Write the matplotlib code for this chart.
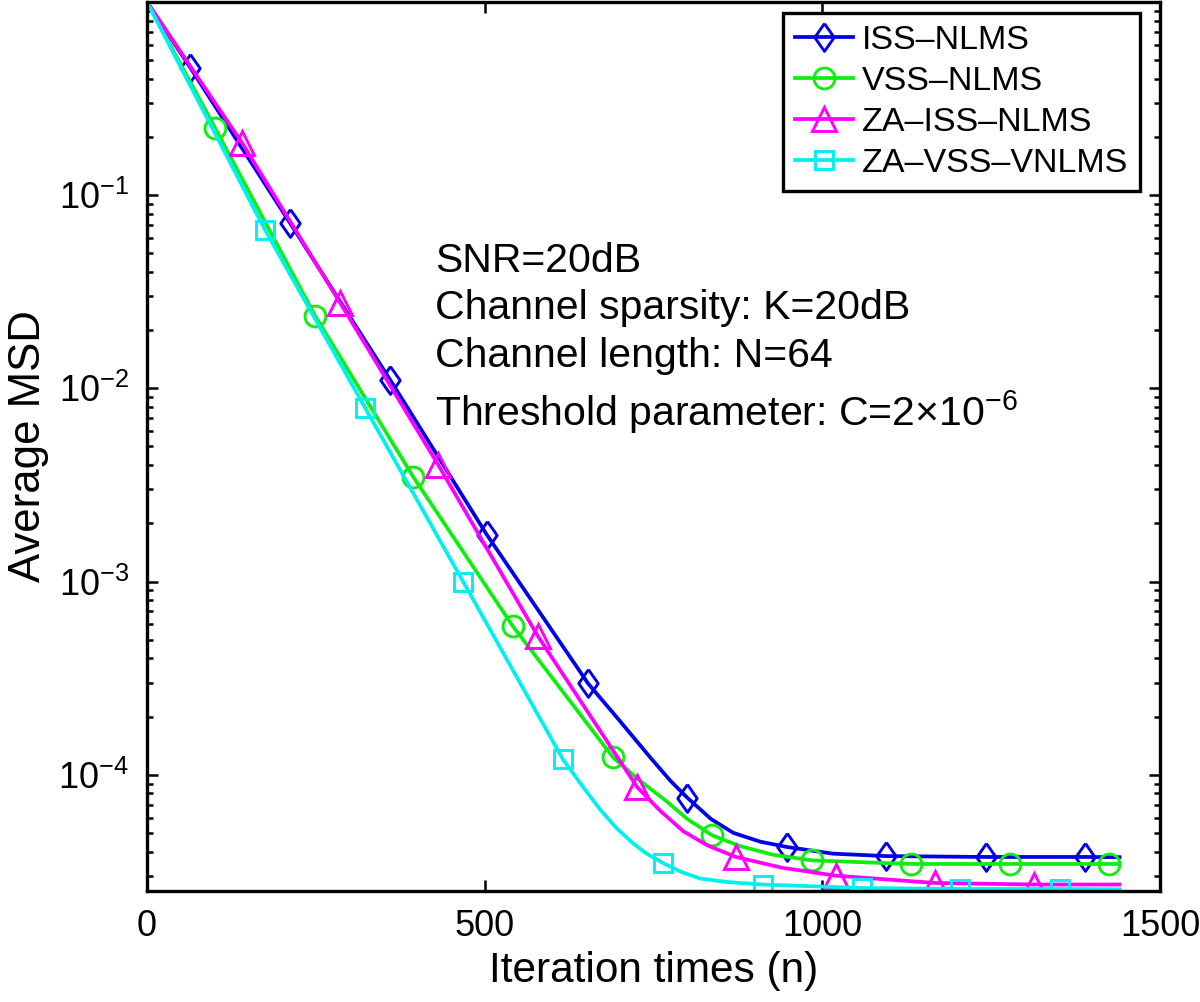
import matplotlib
matplotlib.use("Agg")
import matplotlib.pyplot as plt
from matplotlib.ticker import LogLocator, NullFormatter

plt.rcParams['font.family'] = ['Liberation Sans', 'DejaVu Sans']
plt.rcParams['mathtext.fontset'] = 'custom'
plt.rcParams['mathtext.rm'] = 'Liberation Sans'
plt.rcParams['mathtext.it'] = 'Liberation Sans:italic'

# values (iteration, average MSD)
iss_x = [0, 64, 212, 360, 503, 653, 700, 745, 775, 800, 835, 868, 908, 948, 1016, 1094, 1242, 1389, 1440]
iss_y = [1.0, 0.458, 0.0716, 0.01107, 1.75e-3, 2.97e-4, 1.9e-4, 1.23e-4, 9.3e-5, 7.6e-5, 5.9e-5,
         5.0e-5, 4.5e-5, 4.22e-5, 3.9e-5, 3.79e-5, 3.75e-5, 3.75e-5, 3.74e-5]
iss_marks = [64, 212, 360, 503, 653, 800, 948, 1094, 1242, 1389]

vss_x = [0, 101, 249, 394, 542, 690, 730, 769, 800, 837, 878, 927, 985, 1131, 1278, 1425, 1440]
vss_y = [1.0, 0.222, 0.0237, 3.49e-3, 5.85e-4, 1.23e-4, 9.3e-5, 7.3e-5, 5.9e-5, 4.85e-5,
         4.27e-5, 3.85e-5, 3.6e-5, 3.45e-5, 3.45e-5, 3.45e-5, 3.45e-5]
vss_marks = [101, 249, 394, 542, 690, 837, 985, 1131, 1278, 1425]

zaiss_x = [0, 141, 286, 431, 579, 726, 760, 794, 830, 872, 940, 1020, 1167, 1314, 1440]
zaiss_y = [1.0, 0.186, 0.0277, 4.03e-3, 5.2e-4, 8.6e-5, 6.5e-5, 5.1e-5, 4.3e-5, 3.75e-5,
           3.3e-5, 3.0e-5, 2.75e-5, 2.7e-5, 2.7e-5]
zaiss_marks = [141, 286, 431, 579, 726, 872, 1020, 1167, 1314]

zavss_x = [0, 175, 323, 468, 616, 645, 671, 695, 720, 740, 764, 790, 819, 860, 912, 1059, 1204, 1352, 1440]
zavss_y = [1.0, 0.0659, 7.93e-3, 1.0e-3, 1.2e-4, 8.7e-5, 6.6e-5, 5.3e-5, 4.4e-5, 3.9e-5, 3.49e-5,
           3.15e-5, 2.9e-5, 2.78e-5, 2.7e-5, 2.59e-5, 2.56e-5, 2.56e-5, 2.55e-5]
zavss_marks = [175, 323, 468, 616, 764, 912, 1059, 1204, 1352]

labels = ['ISS\u2013NLMS', 'VSS\u2013NLMS', 'ZA\u2013ISS\u2013NLMS', 'ZA\u2013VSS\u2013VNLMS']
notes = ['SNR=20dB', 'Channel sparsity: K=20dB', 'Channel length: N=64',
         r'Threshold parameter: C=2$\times$10$^{-6}$']

diamond = [(0, 1), (0.7, 0), (0, -1), (-0.7, 0), (0, 1)]

fig = plt.figure(figsize=(12, 10.02), dpi=100)
ax = fig.add_axes([0.1225, 0.1108, 0.8442, 0.8872])

series = [
    (iss_x, iss_y, iss_marks, '#0000e6', diamond, 20),
    (vss_x, vss_y, vss_marks, '#10ee10', 'o', 15),
    (zaiss_x, zaiss_y, zaiss_marks, '#ff00ff', '^', 17),
    (zavss_x, zavss_y, zavss_marks, '#00f0f0', 's', 12.5),
]
for (xs, ys, marks, col, mk, ms), lab in zip(series, labels):
    ax.plot(xs, ys, color=col, lw=2.7, marker=mk, ms=ms, mfc='none', mec=col, mew=2.1,
            markevery=[xs.index(m) for m in marks], label=lab)

ax.set_yscale('log')
ax.set_xlim(0, 1500)
ax.set_ylim(2.5e-5, 1.0)
ax.set_xticks([0, 500, 1000, 1500])
ax.set_yticks([1e-4, 1e-3, 1e-2, 1e-1])
ax.yaxis.set_minor_locator(LogLocator(base=10, subs=range(2, 10)))
ax.yaxis.set_minor_formatter(NullFormatter())
ax.tick_params(which='both', direction='in', top=True, right=True, width=1.8, labelsize=26)
ax.tick_params(which='major', length=8, pad=13)
ax.tick_params(which='minor', length=4.5)
for s in ax.spines.values():
    s.set_linewidth(2.4)

ax.set_xlabel('Iteration times (n)', fontsize=30.5, labelpad=5)
ax.set_ylabel('Average MSD', fontsize=31.5, labelpad=7)

for txt, yb in zip(notes, [0.696, 0.643, 0.589, 0.524]):
    ax.text(0.284, yb, txt, transform=ax.transAxes, fontsize=29.5, va='baseline', ha='left')

leg = ax.legend(loc='upper right', bbox_to_anchor=(0.980, 0.988), borderaxespad=0,
                fontsize=24.5, fancybox=False, framealpha=1, edgecolor='black',
                handlelength=1.7, handletextpad=0.25, labelspacing=0.3, borderpad=0.35)
leg.get_frame().set_linewidth(2.4)

fig.savefig('out.png', dpi=100)
